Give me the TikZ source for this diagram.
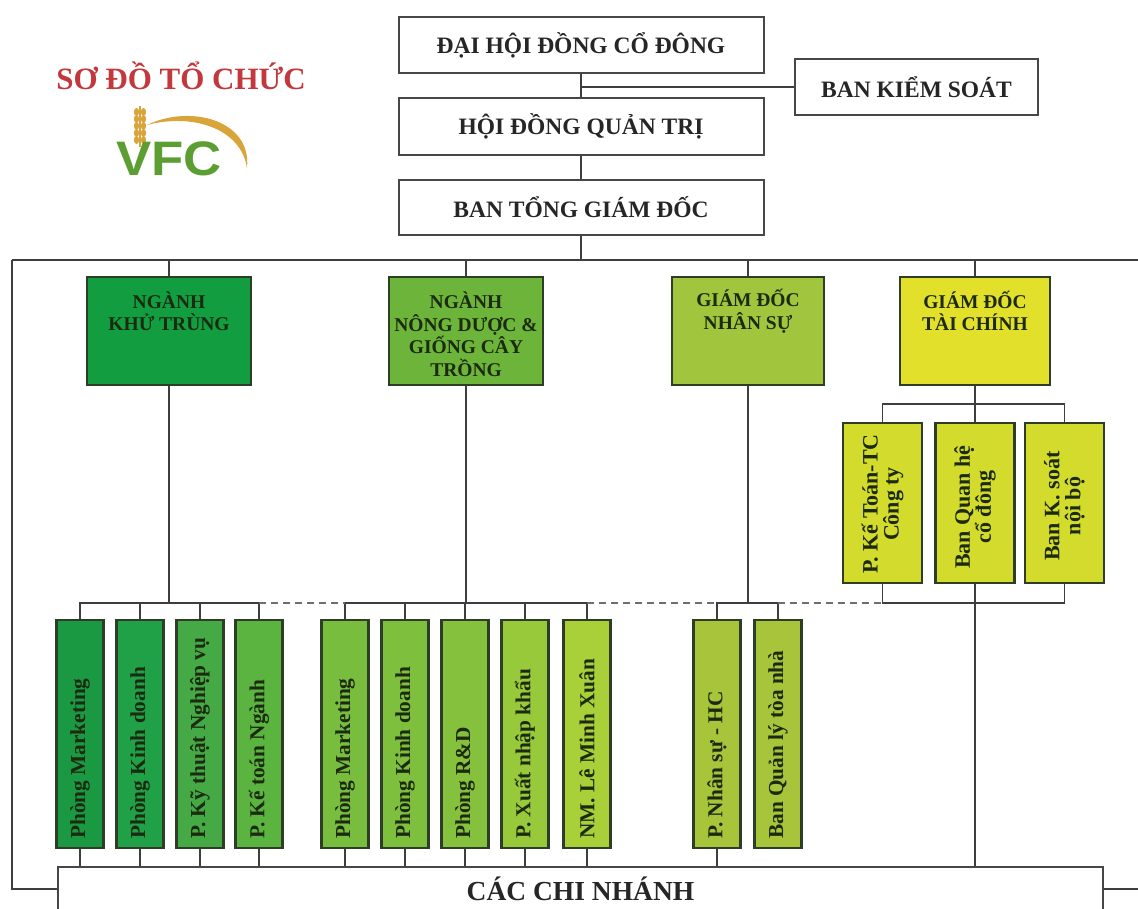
\documentclass[tikz,border=0pt]{standalone}
\usepackage{fontspec}
\setmainfont{Liberation Serif}
\newfontfamily\logofont{Liberation Sans}
\usetikzlibrary{calc}
\definecolor{lineC}{HTML}{3E3E3E}
\definecolor{boxC}{HTML}{474747}
\definecolor{txtC}{HTML}{262626}
\definecolor{gtxt}{HTML}{1B2A10}
\definecolor{gborder}{HTML}{2E3E26}
\definecolor{titleC}{HTML}{C2383C}
\definecolor{logoG}{HTML}{5C9E32}
\definecolor{logoY}{HTML}{D9A53A}
\definecolor{cKT}{HTML}{119D40}
\definecolor{cND}{HTML}{6DB43A}
\definecolor{cNS}{HTML}{A1C53C}
\definecolor{cTC}{HTML}{E2E02B}
\definecolor{cFS}{HTML}{D3DB2C}
\definecolor{cLa}{HTML}{1B9842}
\definecolor{cLb}{HTML}{20A047}
\definecolor{cLc}{HTML}{45AA45}
\definecolor{cLd}{HTML}{5AB43F}
\definecolor{cMa}{HTML}{78BD3E}
\definecolor{cMb}{HTML}{7EBF3D}
\definecolor{cMc}{HTML}{86C13D}
\definecolor{cMd}{HTML}{97C93B}
\definecolor{cMe}{HTML}{A9CF39}
\definecolor{cN}{HTML}{A8C43A}
\begin{document}
\begin{tikzpicture}[x=1pt,y=-1pt,
  conn/.style={draw=lineC, line width=1.7pt},
  dashline/.style={draw=lineC!75, line width=1.7pt, dash pattern=on 7pt off 5pt},
  wbox/.style={draw=boxC, line width=2pt, fill=white, rectangle, inner sep=0pt,
    font=\bfseries\fontsize{23.5}{26}\selectfont, text=txtC},
  gbox/.style={draw=gborder, line width=2.2pt, rectangle, inner sep=0pt},
  gtext/.style={inner sep=0pt, align=center, text=gtxt, font=\bfseries\fontsize{19.5}{22.5}\selectfont},
  vbox/.style={gbox, minimum width=47pt, minimum height=228pt},
  fbox/.style={gbox, fill=cFS, minimum width=79pt, minimum height=160pt},
  vtext/.style={rotate=90, anchor=west, inner sep=0pt, text=gtxt, font=\bfseries\fontsize{21.3}{22}\selectfont},
  ftext/.style={rotate=90, inner sep=0pt, align=center, text=gtxt, font=\bfseries\fontsize{22}{21}\selectfont}
]
\useasboundingbox (0,0) rectangle (1138,908);
\fill[white] (0,0) rectangle (1138,908);

% ---- title and logo
\node[inner sep=0pt, text=titleC, font=\bfseries\fontsize{31}{34}\selectfont] (title) at (181,76) {SƠ ĐỒ TỔ CHỨC};
\fill[logoY] (147,125) .. controls (190,104) and (252,120) .. (247,168)
   .. controls (241,128) and (192,113) .. (147,125) -- cycle;
\draw[logoY, line width=1.2pt] (140,147) -- (140,106);
\foreach \yy in {112,119,126,133,140} {
  \fill[logoY] (136.5,\yy) ellipse [x radius=2.6pt, y radius=4pt];
  \fill[logoY] (143.5,\yy) ellipse [x radius=2.6pt, y radius=4pt];
}
\node[inner sep=0pt, text=logoG, xscale=1.2, yscale=1.1, font=\logofont\bfseries\fontsize{44}{46}\selectfont] (logo) at (169,159) {VFC};

% ---- top boxes
\node[wbox, minimum width=365pt, minimum height=56pt] (dhd) at (581,45) {ĐẠI HỘI ĐỒNG CỔ ĐÔNG};
\node[wbox, minimum width=365pt, minimum height=57pt] (hdqt) at (581,126.5) {HỘI ĐỒNG QUẢN TRỊ};
\node[wbox, minimum width=365pt, minimum height=55pt] (btgd) at (581,207.5) {BAN TỔNG GIÁM ĐỐC};
\node[wbox, minimum width=243pt, minimum height=56pt] (bks) at (916.5,87) {BAN KIỂM SOÁT};

\draw[conn] (dhd.south) -- (hdqt.north);
\draw[conn] (dhd.south |- bks.west) -- (bks.west);
\draw[conn] (hdqt.south) -- (btgd.north);

\coordinate (busL) at (12,260);
\coordinate (busR) at (1138,260);
\coordinate (bry) at (0,603);
\coordinate (fty) at (0,404);
\coordinate (botL) at (12,889);
\coordinate (botR) at (1138,889);

% ---- directors
\node[gbox, fill=cKT, minimum width=164pt, minimum height=108pt] (kt) at (169,331) {};
\node[gtext] (ktt) at (169,311) {NGÀNH\\KHỬ TRÙNG};
\node[gbox, fill=cND, minimum width=154pt, minimum height=108pt] (nd) at (466,331) {};
\node[gtext] (ndt) at (466,334) {NGÀNH\\NÔNG DƯỢC \&\\GIỐNG CÂY\\TRỒNG};
\node[gbox, fill=cNS, minimum width=152pt, minimum height=108pt] (ns) at (748,331) {};
\node[gtext] (nst) at (748,311) {GIÁM ĐỐC\\NHÂN SỰ};
\node[gbox, fill=cTC, minimum width=150pt, minimum height=108pt] (tc) at (975,331) {};
\node[gtext] (tct) at (975,311) {GIÁM ĐỐC\\TÀI CHÍNH};

% ---- bottom branch box
\node[draw=boxC, line width=2pt, fill=white, rectangle, inner sep=0pt,
  minimum width=1045pt, minimum height=80pt] (ccn) at (580.5,907) {};
\node[inner sep=0pt, text=txtC, font=\bfseries\fontsize{27.5}{30}\selectfont] (ccnt) at (580.5,889) {CÁC CHI NHÁNH};

% ---- finance sub boxes
\node[fbox] (fa) at (882.5,503) {};
\node[ftext] (fat) at (882.5,504) {P. Kế Toán-TC\\Công ty};
\node[fbox] (fb) at (975,503) {};
\node[ftext] (fbt) at (975,507) {Ban Quan hệ\\cổ đông};
\node[fbox] (fc) at (1064.5,503) {};
\node[ftext] (fct) at (1064.5,506) {Ban K. soát\\nội bộ};

% ---- lower vertical boxes
\node[vbox, fill=cLa] (l1) at (80,734) {};
\node[vtext] (l1t) at (80,839) {Phòng Marketing};
\node[vbox, fill=cLb] (l2) at (140,734) {};
\node[vtext] (l2t) at (140,839) {Phòng Kinh doanh};
\node[vbox, fill=cLc] (l3) at (200,734) {};
\node[vtext] (l3t) at (200,839) {P. Kỹ thuật Nghiệp vụ};
\node[vbox, fill=cLd] (l4) at (259,734) {};
\node[vtext] (l4t) at (259,839) {P. Kế toán Ngành};

\node[vbox, fill=cMa] (m1) at (345,734) {};
\node[vtext] (m1t) at (345,839) {Phòng Marketing};
\node[vbox, fill=cMb] (m2) at (405,734) {};
\node[vtext] (m2t) at (405,839) {Phòng Kinh doanh};
\node[vbox, fill=cMc] (m3) at (465,734) {};
\node[vtext] (m3t) at (465,839) {Phòng R\&D};
\node[vbox, fill=cMd] (m4) at (525,734) {};
\node[vtext] (m4t) at (525,839) {P. Xuất nhập khẩu};
\node[vbox, fill=cMe] (m5) at (587,734) {};
\node[vtext] (m5t) at (587,839) {NM. Lê Minh Xuân};

\node[vbox, fill=cN] (n1) at (717,734) {};
\node[vtext] (n1t) at (717,839) {P. Nhân sự - HC};
\node[vbox, fill=cN] (n2) at (778,734) {};
\node[vtext] (n2t) at (778,839) {Ban Quản lý tòa nhà};

% ---- main bus and outer loop
\draw[conn] (busL) -- (busR);
\draw[conn] (btgd.south) -- (btgd.south |- busL);
\draw[conn] (busL) -- (botL) -- (botL -| ccn.west);
\draw[conn] (botR -| ccn.east) -- (botR);
\foreach \b in {kt,nd,ns,tc} {
  \draw[conn] (\b.north) -- (\b.north |- busL);
}

% ---- director to bracket
\draw[conn] (kt.south) -- (kt.south |- bry);
\draw[conn] (nd.south) -- (nd.south |- bry);
\draw[conn] (ns.south) -- (ns.south |- bry);
\draw[conn] (tc.south) -- (fb.north);

% ---- brackets
\draw[conn] (l1.north) -- (l1.north |- bry) -- (l4.north |- bry) -- (l4.north);
\draw[conn] (m1.north) -- (m1.north |- bry) -- (m5.north |- bry) -- (m5.north);
\draw[conn] (n1.north) -- (n1.north |- bry) -- (n2.north |- bry) -- (n2.north);
\draw[conn] (fa.north) -- (fa.north |- fty) -- (fc.north |- fty) -- (fc.north);
\draw[conn] (fa.south) -- (fa.south |- bry) -- (fc.south |- bry) -- (fc.south);
\foreach \b in {l2,l3,m2,m3,m4} {
  \draw[conn] (\b.north) -- (\b.north |- bry);
}
\draw[dashline] (l4.north |- bry) -- (m1.north |- bry);
\draw[dashline] (m5.north |- bry) -- (n1.north |- bry);
\draw[dashline] (n2.north |- bry) -- (fa.south |- bry);

% ---- stubs to branches
\foreach \b in {l1,l2,l3,l4,m1,m2,m3,m4,m5,n1,fb} {
  \draw[conn] (\b.south) -- (\b.south |- ccn.north);
}
\end{tikzpicture}
\end{document}
